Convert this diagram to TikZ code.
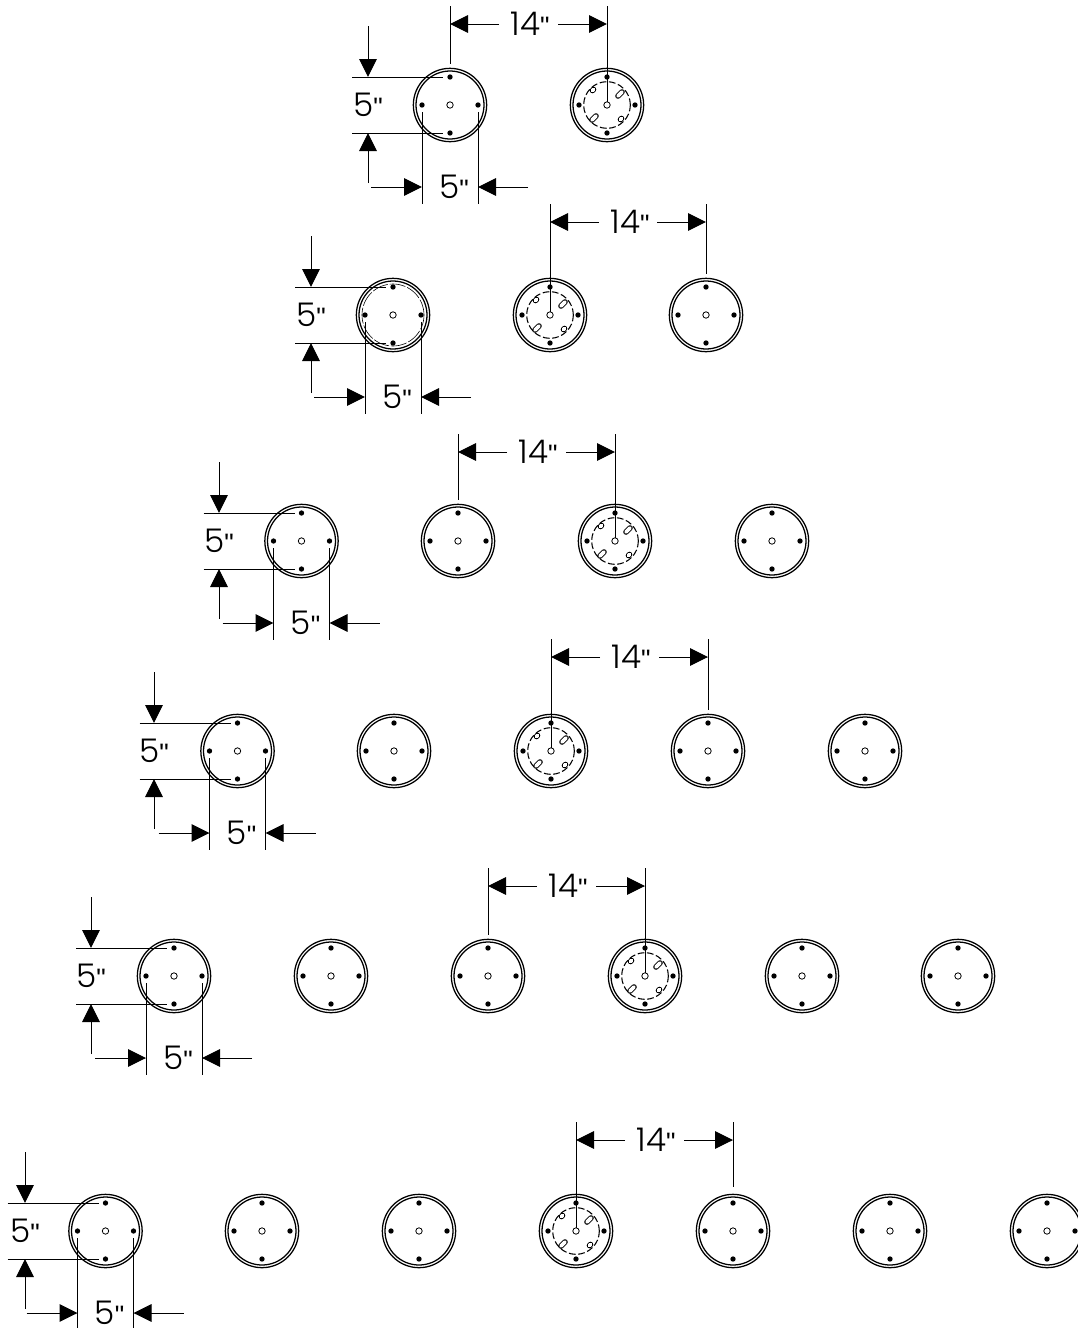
\documentclass[tikz,border=0pt]{standalone}
\usepackage{fontspec}
\setmainfont{Poppins Light}
\newfontfamily\tickfont{Liberation Sans}
\usetikzlibrary{arrows.meta}
\tikzset{
  x=0.75pt,y=-0.75pt,
  rimouter/.style={circle,draw,line width=0.95pt,inner sep=0pt,minimum size=55pt},
  rimin/.style={circle,draw,line width=0.95pt,inner sep=0pt,minimum size=51pt},
  hole/.style={circle,draw,line width=0.6pt,inner sep=0pt,minimum size=4.8pt},
  dot/.style={circle,fill=black,inner sep=0pt,minimum size=4pt},
  ext/.style={line width=0.75pt},
  dim/.style={line width=0.75pt,-{Triangle[length=13.5pt,width=13.2pt]}},
  lab/.style={font=\fontsize{24.5}{24.5}\selectfont,inner sep=0pt},
  dashring/.style={circle,draw,line width=0.8pt,dash pattern=on 5pt off 2pt,inner sep=0pt,minimum size=35pt},
  faintring/.style={circle,draw,line width=0.45pt,dash pattern=on 12pt off 1.5pt,inner sep=0pt,minimum size=46.5pt},
  pillout/.style={line width=4.2pt,line cap=round},
  pillin/.style={line width=2.7pt,line cap=round,white},
}
\newcommand{\inch}{{\tickfont\fontsize{20}{20}\selectfont"}}
\newcommand{\wheel}[3]{%
  \node[rimouter] (#1) at (#2,#3) {};
  \node[rimin] (#1i) at (#2,#3) {};
  \node[hole] (#1c) at (#2,#3) {};
  \node[dot] (#1t) at (#2,#3-28) {};
  \node[dot] (#1b) at (#2,#3+28) {};
  \node[dot] (#1l) at (#2-28,#3) {};
  \node[dot] (#1r) at (#2+28,#3) {};
}
% one pill: name, centre x, centre y, half extent along the diagonal
\newcommand{\pill}[4]{%
  \coordinate (#1a) at (#2-#4,#3+#4); \coordinate (#1b) at (#2+#4,#3-#4);
  \draw[pillout] (#1a) -- (#1b);
  \draw[pillin] (#1a) -- (#1b);
}
\newcommand{\detailwheel}[3]{%
  \wheel{#1}{#2}{#3}
  \node[dashring] (#1d) at (#2,#3) {};
  \pill{#1p}{#2-14}{#3-15}{0.5}
  \pill{#1q}{#2+13}{#3-11}{2}
  \pill{#1s}{#2-13}{#3+13}{2}
  \pill{#1u}{#2+14}{#3+14}{0.5}
}
% five-inch dimensions: name, centre x, centre y, x of the vertical arrows
\newcommand{\fivedims}[4]{%
  \coordinate (#1a) at (#2-98,#3-28); \coordinate (#1A) at (#2-7,#3-28);
  \coordinate (#1e) at (#2-98,#3+28); \coordinate (#1E) at (#2-7,#3+28);
  \draw[ext] (#1a) -- (#1A);
  \draw[ext] (#1e) -- (#1E);
  \coordinate (#1f) at (#2-28,#3+7); \coordinate (#1F) at (#2-28,#3+99);
  \coordinate (#1g) at (#2+28,#3+7); \coordinate (#1G) at (#2+28,#3+99);
  \draw[ext] (#1f) -- (#1F);
  \draw[ext] (#1g) -- (#1G);
  \coordinate (#1h) at (#4,#3-79); \coordinate (#1H) at (#4,#3-28);
  \coordinate (#1j) at (#4,#3+78); \coordinate (#1J) at (#4,#3+28);
  \draw[dim] (#1h) -- (#1H);
  \draw[dim] (#1j) -- (#1J);
  \coordinate (#1k) at (#2-79,#3+82); \coordinate (#1K) at (#2-28,#3+82);
  \coordinate (#1m) at (#2+78,#3+82); \coordinate (#1M) at (#2+28,#3+82);
  \draw[dim] (#1k) -- (#1K);
  \draw[dim] (#1m) -- (#1M);
  \node[lab] (#1v) at (#4,#3) {5\inch};
  \node[lab] (#1w) at (#2+4,#3+82) {5\inch};
}
% fourteen-inch dimension: name, left x, right x, y of dimension line, left end, right end
\newcommand{\fourteen}[6]{%
  \coordinate (#1a) at (#2,#4-18); \coordinate (#1A) at (#2,#5);
  \coordinate (#1b) at (#3,#4-18); \coordinate (#1B) at (#3,#6);
  \draw[ext] (#1a) -- (#1A);
  \draw[ext] (#1b) -- (#1B);
  \coordinate (#1c) at (#2+49,#4); \coordinate (#1C) at (#2,#4);
  \coordinate (#1d) at (#3-49,#4); \coordinate (#1D) at (#3,#4);
  \draw[dim] (#1c) -- (#1C);
  \draw[dim] (#1d) -- (#1D);
  \node[lab] (#1t) at (#2+80,#4) {14\inch};
}
\begin{document}
\begin{tikzpicture}
\useasboundingbox (0,0) rectangle (1078,1328);
% row 1
\wheel{Aa}{450}{105}\detailwheel{Ab}{607}{105}
\fivedims{Ax}{450}{105}{368}\fourteen{Ay}{450}{607}{24}{64}{102}
% row 2
\wheel{Ba}{393}{315}\node[faintring] (Baf) at (393,315) {};
\detailwheel{Bb}{550}{315}\wheel{Bc}{706}{315}
\fivedims{Bx}{393}{315}{311}\fourteen{By}{550}{706}{222}{312}{274}
% row 3
\wheel{Ca}{301.5}{541}\wheel{Cb}{458}{541}\detailwheel{Cc}{615}{541}\wheel{Cd}{772}{541}
\fivedims{Cx}{301.5}{541}{219}\fourteen{Cy}{458}{615}{452}{500}{538}
% row 4
\wheel{Da}{237.5}{751}\wheel{Db}{394}{751}\detailwheel{Dc}{551}{751}\wheel{Dd}{708}{751}\wheel{De}{865}{751}
\fivedims{Dx}{237.5}{751}{154}\fourteen{Dy}{551}{708}{657}{748}{710}
% row 5
\wheel{Ea}{174}{976}\wheel{Eb}{331}{976}\wheel{Ec}{488}{976}\detailwheel{Ed}{645}{976}\wheel{Ee}{802}{976}\wheel{Ef}{958}{976}
\fivedims{Ex}{174}{976}{91}\fourteen{Ey}{488}{645}{886}{935}{973}
% row 6
\wheel{Fa}{105.5}{1231}\wheel{Fb}{262}{1231}\wheel{Fc}{419}{1231}\detailwheel{Fd}{576}{1231}\wheel{Fe}{733}{1231}\wheel{Ff}{890}{1231}\wheel{Fg}{1047}{1231}
\fivedims{Fx}{105.5}{1231}{25}\fourteen{Fy}{576}{733}{1140}{1228}{1187}
\end{tikzpicture}
\end{document}
